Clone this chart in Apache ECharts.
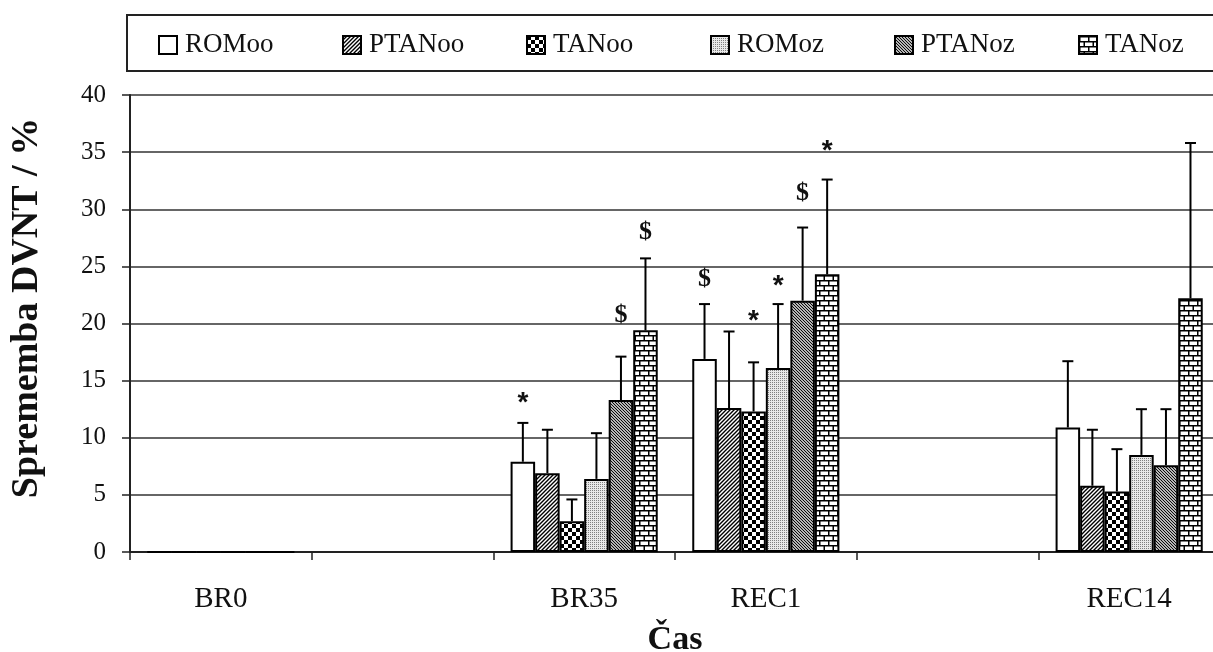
<!DOCTYPE html>
<html>
<head>
<meta charset="utf-8">
<script src="https://cdn.jsdelivr.net/npm/echarts@6/dist/echarts.min.js"></script>
<style>html,body{margin:0;padding:0;background:#fff}#c{width:1213px;height:652px}</style>
</head>
<body>
<div id="c"></div>
<script>
// ---- data ----
const categories = ['BR0', '', 'BR35', 'REC1', '', 'REC14'];
const seriesNames = ['ROMoo', 'PTANoo', 'TANoo', 'ROMoz', 'PTANoz', 'TANoz'];
const ROMoo  = [0, '-', 7.9, 16.9, '-', 10.9];
const PTANoo = [0, '-', 6.9, 12.6, '-', 5.8];
const TANoo  = [0, '-', 2.7, 12.3, '-', 5.3];
const ROMoz  = [0, '-', 6.4, 16.1, '-', 8.5];
const PTANoz = [0, '-', 13.3, 22.0, '-', 7.6];
const TANoz  = [0, '-', 19.4, 24.3, '-', 22.2];
const ROMoo_sd  = [null, null, 3.4, 4.8, null, 5.8];
const PTANoo_sd = [null, null, 3.8, 6.7, null, 4.9];
const TANoo_sd  = [null, null, 1.9, 4.3, null, 3.7];
const ROMoz_sd  = [null, null, 4.0, 5.6, null, 4.0];
const PTANoz_sd = [null, null, 3.8, 6.4, null, 4.9];
const TANoz_sd  = [null, null, 6.3, 8.3, null, 13.6];
// significance markers: category index, series index, level (axis units), symbol
const markerCat    = [2, 2, 2, 3, 3, 3, 3, 3];
const markerSeries = [0, 4, 5, 0, 2, 3, 4, 5];
const markerLevel  = [13.5, 20.7, 28.0, 23.9, 20.7, 23.8, 31.4, 35.6];
const markerText   = ['*', '$', '$', '$', '*', '*', '$', '*'];
const yTicks = {min: 0, max: 40, interval: 5};

// ---- patterns ----
function pat(w, h, draw) {
  const c = document.createElement('canvas');
  c.width = w; c.height = h;
  const g = c.getContext('2d');
  g.fillStyle = '#fff'; g.fillRect(0, 0, w, h);
  draw(g, w, h);
  return {image: c, repeat: 'repeat'};
}
const patterns = [
  '#ffffff',
  pat(4, 4, (g, w) => { g.strokeStyle = '#000'; g.lineWidth = 1.4;
    g.beginPath(); g.moveTo(-1, w + 1); g.lineTo(w + 1, -1);
    g.moveTo(-1, 1); g.lineTo(1, -1); g.moveTo(w - 1, w + 1); g.lineTo(w + 1, w - 1); g.stroke(); }),
  pat(8, 8, (g) => { g.fillStyle = '#000'; g.fillRect(0, 0, 4, 4); g.fillRect(4, 4, 4, 4); }),
  pat(2, 2, (g) => { g.fillStyle = '#e9e9e9'; g.fillRect(0, 0, 2, 2); g.fillStyle = '#808080'; g.fillRect(0, 0, 1, 1); }),
  pat(3, 3, (g, w) => { g.strokeStyle = '#000'; g.lineWidth = 1.1;
    g.beginPath(); g.moveTo(-1, -1); g.lineTo(w + 1, w + 1);
    g.moveTo(w - 1, -1); g.lineTo(w + 1, 1); g.moveTo(-1, w - 1); g.lineTo(1, w + 1); g.stroke(); }),
  pat(18, 10, (g) => { g.fillStyle = '#000';
    g.fillRect(0, 0, 18, 1.5); g.fillRect(0, 5, 18, 1.5);
    g.fillRect(0, 0, 1.5, 5); g.fillRect(9, 0, 1.5, 5);
    g.fillRect(4.5, 5, 1.5, 5); g.fillRect(13.5, 5, 1.5, 5); })
];

const values = [ROMoo, PTANoo, TANoo, ROMoz, PTANoz, TANoz];
const sds = [ROMoo_sd, PTANoo_sd, TANoo_sd, ROMoz_sd, PTANoz_sd, TANoz_sd];
const GAP = 0.19;

const errData = [];
values.forEach((arr, s) => arr.forEach((v, c) => {
  if (sds[s][c] != null) errData.push([c, s, v, sds[s][c]]);
}));
const markData = markerCat.map((c, i) => [c, markerSeries[i], markerLevel[i], i]);

function barX(api, c, y, s) {
  const p = api.coord([c, y]);
  const band = api.size([1, 0])[0];
  const bw = band * (1 - GAP) / 6;
  return [p[0] + (s - 2.5) * bw, p[1]];
}

const serif = 'Liberation Serif, Times New Roman, serif';
const barSeries = seriesNames.map((n, s) => ({
  name: n, type: 'bar', data: values[s],
  barGap: '0%', barCategoryGap: (GAP * 100) + '%',
  itemStyle: {color: patterns[s], borderColor: '#000', borderWidth: 2},
  emphasis: {disabled: true}, animation: false
}));

const legendData = seriesNames.map((n, i) => i < seriesNames.length - 1
  ? {name: n, textStyle: {width: 137}} : {name: n});

const chart = echarts.init(document.getElementById('c'), null, {renderer: 'canvas'});
chart.setOption({
  animation: false,
  backgroundColor: '#fff',
  grid: {left: 130, width: 1090, top: 95, bottom: 100, containLabel: false, outerBoundsMode: 'none'},
  legend: {
    data: legendData, left: 158, top: 31, padding: 0,
    itemWidth: 18, itemHeight: 18, itemGap: 20,
    icon: 'rect', selectedMode: false,
    itemStyle: {borderColor: '#000', borderWidth: 2},
    textStyle: {fontFamily: serif, fontSize: 27, color: '#111', lineHeight: 28, padding: [0, 0, 0, 3]}
  },
  graphic: [
    {type: 'rect', shape: {x: 127, y: 15, width: 1110, height: 56}, style: {fill: 'none', stroke: '#222', lineWidth: 2}, z: 10},
    {type: 'text', x: 27, y: 308, rotation: Math.PI / 2,
      style: {text: 'Sprememba DVNT / %', font: 'bold 38px ' + serif, fill: '#111', align: 'center', verticalAlign: 'middle'}}
  ],
  xAxis: {
    type: 'category', data: categories, boundaryGap: true,
    axisLine: {lineStyle: {color: '#222', width: 2}},
    axisTick: {show: true, interval: 0, length: 8, inside: false, lineStyle: {color: '#222', width: 1.5}},
    axisLabel: {interval: 0, fontFamily: serif, fontSize: 29, color: '#111', margin: 33},
    name: 'Čas', nameLocation: 'middle', nameGap: 71,
    nameTextStyle: {fontFamily: serif, fontSize: 34, fontWeight: 'bold', color: '#111'}
  },
  yAxis: {
    type: 'value', min: yTicks.min, max: yTicks.max, interval: yTicks.interval,
    axisLine: {show: true, lineStyle: {color: '#222', width: 2}},
    axisTick: {show: true, length: 8, inside: false, lineStyle: {color: '#222', width: 1.5}},
    axisLabel: {fontFamily: serif, fontSize: 25, color: '#111', margin: 24},
    splitLine: {show: true, lineStyle: {color: '#333', width: 1.5}}
  },
  series: barSeries.concat([
    {
      type: 'custom', name: 'err', data: errData, z: 5, silent: true,
      renderItem: function (params, api) {
        const c = api.value(0), s = api.value(1), v = api.value(2), e = api.value(3);
        const b = barX(api, c, v, s), t = barX(api, c, v + e, s);
        const st = {stroke: '#000', lineWidth: 2};
        return {type: 'group', children: [
          {type: 'line', shape: {x1: b[0], y1: b[1], x2: t[0], y2: t[1]}, style: st},
          {type: 'line', shape: {x1: t[0] - 5.5, y1: t[1], x2: t[0] + 5.5, y2: t[1]}, style: st}
        ]};
      }
    },
    {
      type: 'custom', name: 'marks', data: markData, z: 6, silent: true,
      renderItem: function (params, api) {
        const c = api.value(0), s = api.value(1), lv = api.value(2), i = api.value(3);
        const p = barX(api, c, lv, s);
        const sym = markerText[i];
        const star = sym === '*';
        return {type: 'text', x: p[0], y: p[1] + (star ? 6 : 0),
          style: {text: sym, align: 'center', verticalAlign: 'middle', fill: '#111',
            font: star ? 'bold 28px Liberation Sans, Arial, sans-serif' : 'bold 26px ' + serif}};
      }
    }
  ])
});
</script>
</body>
</html>
